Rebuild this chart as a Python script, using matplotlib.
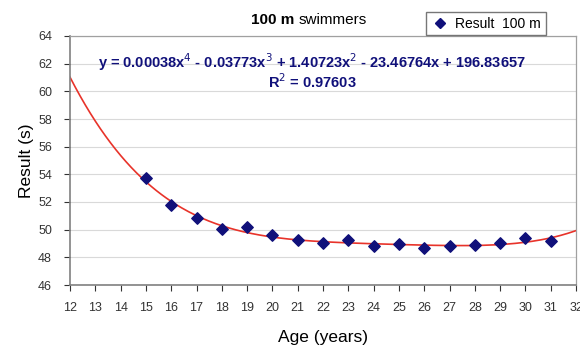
import numpy as np
import matplotlib.pyplot as plt
from matplotlib.lines import Line2D

plt.rcParams['font.family'] = ['Liberation Sans', 'DejaVu Sans']

# Data
ages = [15, 16, 17, 18, 19, 20, 21, 22, 23, 24, 25, 26, 27, 28, 29, 30, 31]
results = [53.7, 51.8, 50.83, 50.05, 50.22, 49.64, 49.23, 49.02, 49.23, 48.82,
           48.94, 48.67, 48.8, 48.87, 49.04, 49.38, 49.18]
x_ticks = list(range(12, 33))
y_ticks = list(range(46, 65, 2))
equation = "y = 0.00038x$^4$ - 0.03773x$^3$ + 1.40723x$^2$ - 23.46764x + 196.83657"
r_squared = "R$^2$ = 0.97603"

navy = '#10107a'
fig = plt.figure(figsize=(5.8, 3.47), dpi=100)
ax = fig.add_axes([70 / 580, 1 - 285 / 347, 506 / 580, 249 / 347])

# 4th order polynomial trendline fitted to the points
coef = np.polyfit(ages, results, 4)
xs = np.linspace(12, 32, 300)
ax.plot(xs, np.polyval(coef, xs), color='#e8332a', lw=1.2, zorder=2)
ax.scatter(ages, results, marker='D', s=34, color=navy, zorder=3)

ax.set_xlim(12, 32)
ax.set_ylim(46, 64)
ax.set_xticks(x_ticks)
ax.set_yticks(y_ticks)
ax.tick_params(labelsize=9, colors='#333333', length=4, direction='out')
ax.tick_params(axis='x', pad=8)
ax.tick_params(axis='y', pad=9)
ax.yaxis.grid(True, color='#d9d9d9', lw=0.8)
ax.set_axisbelow(True)
for side in ['top', 'right']:
    ax.spines[side].set_color('#a0a0a0')
    ax.spines[side].set_linewidth(0.9)
for side in ['left', 'bottom']:
    ax.spines[side].set_color('#808080')
    ax.spines[side].set_linewidth(1.2)

ax.set_xlabel("Age (years)", fontsize=12.5, labelpad=12)
ax.set_ylabel("Result (s)", fontsize=12.5, labelpad=3)

ax.text(312 / 580, 1 - 62 / 347, equation, transform=fig.transFigure, ha='center', va='center',
        fontsize=10.5, fontweight='bold', color=navy)
ax.text(312 / 580, 1 - 82 / 347, r_squared, transform=fig.transFigure, ha='center', va='center',
        fontsize=10.5, fontweight='bold', color=navy)

fig.text(294 / 580, 1 - 20 / 347, "100 m", ha='right', va='center', fontsize=11, fontweight='bold')
fig.text(299 / 580, 1 - 20 / 347, "swimmers", ha='left', va='center', fontsize=11)

handle = Line2D([], [], marker='D', color=navy, linestyle='none', markersize=5)
fig.legend([handle], ["Result  100 m"], loc='center', bbox_to_anchor=(486 / 580, 1 - 23.5 / 347),
           fontsize=10, frameon=True, fancybox=False, edgecolor='#555555',
           handletextpad=0.5, borderpad=0.35, handlelength=1.2)

fig.savefig('out.png', dpi=100)
